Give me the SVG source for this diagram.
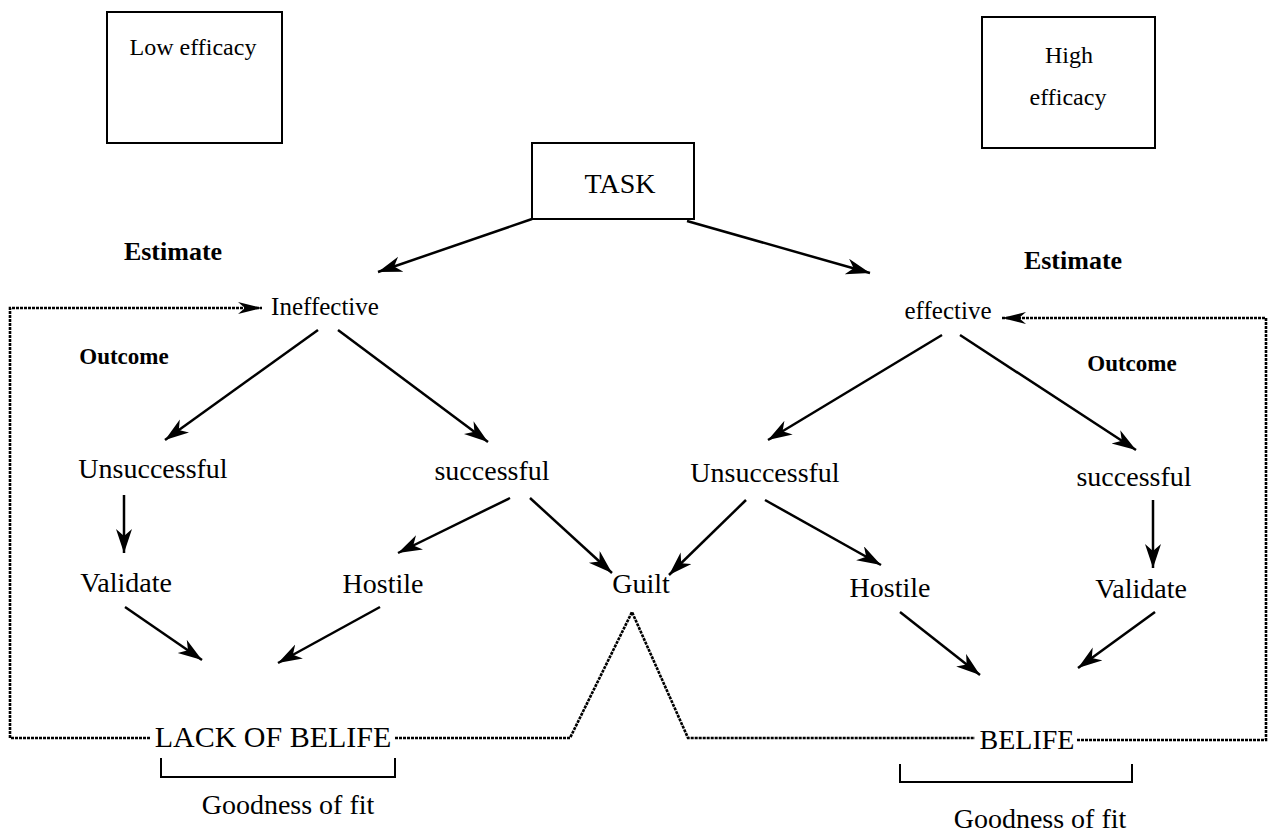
<svg xmlns="http://www.w3.org/2000/svg" width="1274" height="834" viewBox="0 0 1274 834">
<style>
text{font-family:"Liberation Serif","Times New Roman",serif;fill:#000;text-anchor:middle}
.n{font-size:28px}
.s{font-size:25px}
.b{font-weight:bold}
.box{fill:#fff;stroke:#000;stroke-width:2}
.a{fill:none;stroke:#000;stroke-width:2.5;marker-end:url(#ah)}
.d{fill:none;stroke:#000;stroke-width:2.6;stroke-dasharray:3 1}
.br{fill:none;stroke:#000;stroke-width:2}
</style>
<defs>
<marker id="ah" markerUnits="userSpaceOnUse" markerWidth="26" markerHeight="18" refX="24" refY="8" orient="auto">
<path d="M0,0 L24,8 L0,16 L7,8 z" fill="#000"/>
</marker>
<marker id="dh" markerUnits="userSpaceOnUse" markerWidth="26" markerHeight="16" refX="24" refY="6" orient="auto">
<path d="M0,0 L24,6 L0,12 L7,6 z" fill="#000"/>
</marker>
</defs>
<rect width="1274" height="834" fill="#fff"/>

<g id="low-efficacy"><rect class="box" x="107" y="12" width="175" height="131"/><text x="193" y="55" style="font-size:24px">Low efficacy</text></g>
<g id="high-efficacy"><rect class="box" x="982" y="17" width="173" height="131"/><text x="1069" y="63" style="font-size:24px">High</text><text x="1068" y="105" style="font-size:24px">efficacy</text></g>
<g id="task"><rect class="box" x="532" y="143" width="162" height="76"/><text class="n" x="620" y="193">TASK</text></g>

<g id="estimate-left"><text class="b" x="173" y="260" style="font-size:26px">Estimate</text></g>
<g id="estimate-right"><text class="b" x="1073" y="269" style="font-size:26px">Estimate</text></g>
<g id="ineffective"><text class="s" x="325" y="315">Ineffective</text></g>
<g id="effective"><text class="s" x="948" y="319">effective</text></g>
<g id="outcome-left"><text class="b" x="124" y="364" style="font-size:23px">Outcome</text></g>
<g id="outcome-right"><text class="b" x="1132" y="371" style="font-size:23px">Outcome</text></g>
<g id="unsuccessful-left"><text class="n" x="153" y="478">Unsuccessful</text></g>
<g id="successful-left"><text class="n" x="492" y="480">successful</text></g>
<g id="unsuccessful-right"><text class="n" x="765" y="482">Unsuccessful</text></g>
<g id="successful-right"><text class="n" x="1134" y="486">successful</text></g>
<g id="validate-left"><text class="n" x="126" y="592">Validate</text></g>
<g id="hostile-left"><text class="n" x="383" y="593">Hostile</text></g>
<g id="guilt"><text class="n" x="641" y="593">Guilt</text></g>
<g id="hostile-right"><text class="n" x="890" y="597">Hostile</text></g>
<g id="validate-right"><text class="n" x="1141" y="598">Validate</text></g>
<g id="lack-of-belife"><text x="273" y="747" style="font-size:30px">LACK OF BELIFE</text></g>
<g id="belife"><text class="n" x="1027" y="749">BELIFE</text></g>
<g id="fit-left"><path class="br" d="M161,758 V777 H395 V758"/><text class="n" x="288" y="814">Goodness of fit</text></g>
<g id="fit-right"><path class="br" d="M900,764 V782 H1132 V764"/><text class="n" x="1040" y="828">Goodness of fit</text></g>

<g id="connectors">
<path class="a" d="M532,219 L378,272"/>
<path class="a" d="M687,221 L870,273"/>
<path class="a" d="M318,330 L165,440"/>
<path class="a" d="M338,330 L488,442"/>
<path class="a" d="M124,495 L124,553"/>
<path class="a" d="M510,498 L398,553"/>
<path class="a" d="M530,498 L612,573"/>
<path class="a" d="M125,607 L202,660"/>
<path class="a" d="M380,607 L278,663"/>
<path class="a" d="M942,335 L768,440"/>
<path class="a" d="M960,335 L1136,450"/>
<path class="a" d="M746,500 L669,575"/>
<path class="a" d="M765,500 L881,565"/>
<path class="a" d="M1153,500 L1153,568"/>
<path class="a" d="M900,612 L980,675"/>
<path class="a" d="M1155,612 L1078,668"/>
<path class="d" d="M150,738 H10 V308 H262" marker-end="url(#dh)"/>
<path class="d" d="M395,738 H570 L632,612 L688,738 H975"/>
<path class="d" d="M1077,740 H1266 V318 H1002" marker-end="url(#dh)"/>
</g>
</svg>
